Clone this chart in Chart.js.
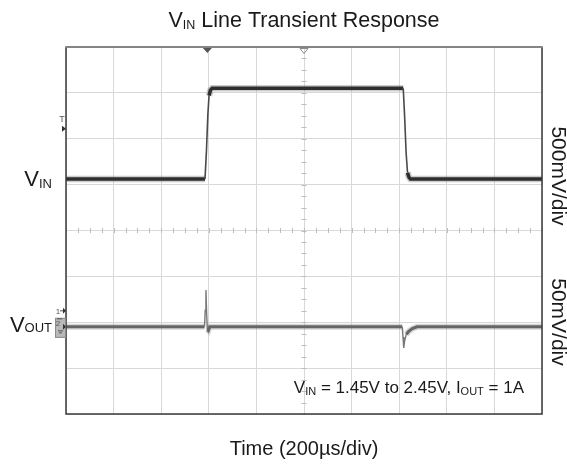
<!DOCTYPE html>
<html>
<head>
<meta charset="utf-8">
<script src="https://cdn.jsdelivr.net/npm/chart.js@4.4.0/dist/chart.umd.min.js"></script>
<style>
  html, body { margin: 0; padding: 0; background: #fff; }
  canvas { display: block; }
</style>
</head>
<body>
<canvas id="scope" width="567" height="466"></canvas>
<script>
// scope capture: 200us/div, 10 div across, 8 div tall
const vinTime  = [0, 584, 590, 596, 601, 607, 614, 1417, 1423, 1429, 1435, 1441, 1447, 2000];
const vinVolts = [1.45, 1.45, 1.75, 2.15, 2.36, 2.42, 2.44, 2.44, 2.12, 1.74, 1.52, 1.47, 1.45, 1.45];

// VOUT shown as deviation from its DC level (mV)
const voutTime = [0, 582, 585, 588, 591, 594, 598, 604, 1413, 1416, 1419, 1423, 1430, 1440, 1455, 1475, 2000];
const voutMv   = [0, 0, 18, 40, 14, -3, -4, 0, 0, -11, -23, -15, -8, -5, -2, 0, 0];

const timeRange = [0, 2000];     // us
const vinRange  = [-1.11, 2.89]; // V, 500mV/div
const voutRange = [-95, 305];    // mV, 50mV/div
const triggerTime  = 594;
const triggerLevel = 2.0;

const FONT = "'Liberation Sans', Arial, sans-serif";

const toPoints = (xs, ys) => xs.map((x, i) => ({ x: x, y: ys[i] }));
const vinPts  = toPoints(vinTime, vinVolts);
const voutPts = toPoints(voutTime, voutMv);

// fast edges are drawn thin, flat parts as a thick noisy band
const steep = (c, lim) => Math.abs(c.p1.parsed.y - c.p0.parsed.y) > lim;

function drawRuns(ctx, runs, x, y, align) {
  let total = 0;
  runs.forEach(r => {
    ctx.font = r.size + 'px ' + FONT;
    r.w = ctx.measureText(r.text).width;
    total += r.w;
  });
  let cx = align === 'center' ? x - total / 2 : (align === 'right' ? x - total : x);
  runs.forEach(r => {
    ctx.font = r.size + 'px ' + FONT;
    ctx.fillText(r.text, cx, y + (r.dy || 0));
    cx += r.w;
  });
}

const scopeDecor = {
  id: 'scopeDecor',
  beforeDatasetsDraw(chart) {
    const { ctx, scales } = chart;
    const xs = scales.x, ys = scales.y;
    const cy = ys.getPixelForValue(0);
    const cx = xs.getPixelForValue(1000);
    ctx.save();
    // minor ticks on the centre cross
    ctx.strokeStyle = '#bdbdbd';
    ctx.lineWidth = 1;
    ctx.beginPath();
    for (let t = 0; t <= 2000; t += 50) {
      const px = Math.round(xs.getPixelForValue(t)) + 0.5;
      ctx.moveTo(px, cy - 2.5);
      ctx.lineTo(px, cy + 2.5);
    }
    for (let d = -4; d <= 4; d += 0.25) {
      const py = Math.round(ys.getPixelForValue(d)) + 0.5;
      ctx.moveTo(cx - 2.5, py);
      ctx.lineTo(cx + 2.5, py);
    }
    ctx.stroke();
    ctx.restore();
  },
  afterDraw(chart) {
    const { ctx, chartArea: a, scales } = chart;
    const xs = scales.x;
    ctx.save();

    // frame
    ctx.lineWidth = 1.5;
    ctx.strokeStyle = '#3a3a3a';
    ctx.beginPath();
    ctx.moveTo(a.left, a.top);
    ctx.lineTo(a.left, a.bottom);
    ctx.lineTo(a.right, a.bottom);
    ctx.lineTo(a.right, a.top);
    ctx.stroke();
    ctx.strokeStyle = '#858585';
    ctx.lineWidth = 2;
    ctx.beginPath();
    ctx.moveTo(a.left - 0.75, a.top);
    ctx.lineTo(a.right + 0.75, a.top);
    ctx.stroke();

    // trigger position markers along the top
    const tx = xs.getPixelForValue(triggerTime);
    ctx.fillStyle = '#555';
    ctx.beginPath();
    ctx.moveTo(tx - 4.5, a.top + 1);
    ctx.lineTo(tx + 4.5, a.top + 1);
    ctx.lineTo(tx, a.top + 6);
    ctx.closePath();
    ctx.fill();
    const mx = xs.getPixelForValue(1000);
    ctx.strokeStyle = '#8a8a8a';
    ctx.lineWidth = 1;
    ctx.beginPath();
    ctx.moveTo(mx - 4, a.top + 1.5);
    ctx.lineTo(mx + 4, a.top + 1.5);
    ctx.lineTo(mx, a.top + 6.5);
    ctx.closePath();
    ctx.stroke();

    // trigger level marker on the left edge
    const ty = scales.yVin.getPixelForValue(triggerLevel);
    ctx.fillStyle = '#333';
    ctx.beginPath();
    ctx.moveTo(a.left - 4, ty - 3);
    ctx.lineTo(a.left, ty);
    ctx.lineTo(a.left - 4, ty + 3);
    ctx.closePath();
    ctx.fill();
    ctx.font = '9px ' + FONT;
    ctx.fillStyle = '#555';
    ctx.textAlign = 'center';
    ctx.fillText('T', a.left - 4, ty - 7);

    // channel ground markers
    const gy = scales.yVout.getPixelForValue(0);
    ctx.fillStyle = '#b8b8b8';
    ctx.strokeStyle = '#8c8c8c';
    ctx.lineWidth = 1;
    ctx.fillRect(a.left - 11, gy - 9, 11, 20);
    ctx.strokeRect(a.left - 11 + 0.5, gy - 9 + 0.5, 10, 19);
    ctx.fillStyle = '#555';
    ctx.font = '8px ' + FONT;
    ctx.fillText('2', a.left - 8, gy - 1);
    ctx.fillText('1', a.left - 8, gy - 13);
    ctx.strokeStyle = '#555';
    ctx.beginPath();
    ctx.moveTo(a.left - 6, gy - 16); ctx.lineTo(a.left - 1, gy - 16);
    ctx.moveTo(a.left - 9, gy - 8); ctx.lineTo(a.left - 4, gy - 8);
    ctx.moveTo(a.left - 8, gy + 4); ctx.lineTo(a.left - 3, gy + 4);
    ctx.moveTo(a.left - 7, gy + 6); ctx.lineTo(a.left - 4, gy + 6);
    ctx.stroke();
    ctx.fillStyle = '#333';
    ctx.beginPath();
    ctx.moveTo(a.left - 3, gy - 19); ctx.lineTo(a.left, gy - 16); ctx.lineTo(a.left - 3, gy - 13);
    ctx.closePath(); ctx.fill();
    ctx.beginPath();
    ctx.moveTo(a.left - 3, gy - 3); ctx.lineTo(a.left, gy); ctx.lineTo(a.left - 3, gy + 3);
    ctx.closePath(); ctx.fill();

    // texts
    ctx.fillStyle = '#1a1a1a';
    ctx.textAlign = 'left';
    ctx.textBaseline = 'alphabetic';
    const midX = (a.left + a.right) / 2;
    drawRuns(ctx, [
      { text: 'V', size: 21.5 }, { text: 'IN', size: 12.5, dy: 2 },
      { text: ' Line Transient Response', size: 21.5 }
    ], midX, 27, 'center');
    drawRuns(ctx, [{ text: 'Time (200µs/div)', size: 20 }], midX, 455, 'center');
    drawRuns(ctx, [{ text: 'V', size: 22 }, { text: 'IN', size: 13, dy: 2 }], 52, 186, 'right');
    drawRuns(ctx, [{ text: 'V', size: 22 }, { text: 'OUT', size: 13 }], 52, 332, 'right');
    drawRuns(ctx, [
      { text: 'V', size: 17 }, { text: 'IN', size: 11, dy: 2 },
      { text: ' = 1.45V to 2.45V, I', size: 17 }, { text: 'OUT', size: 11, dy: 2 },
      { text: ' = 1A', size: 17 }
    ], 524, 393, 'right');

    // per-channel scale, rotated on the right
    ctx.font = '21px ' + FONT;
    ctx.textAlign = 'center';
    ctx.textBaseline = 'middle';
    [['500mV/div', 176], ['50mV/div', 322]].forEach(([s, y]) => {
      ctx.save();
      ctx.translate(558, y);
      ctx.rotate(Math.PI / 2);
      ctx.fillText(s, 0, 0);
      ctx.restore();
    });
    ctx.restore();
  }
};

const lineBase = { pointRadius: 0, fill: false, tension: 0 };

new Chart(document.getElementById('scope').getContext('2d'), {
  type: 'line',
  data: {
    datasets: [
      Object.assign({}, lineBase, {
        label: 'VIN', data: vinPts, yAxisID: 'yVin', order: 0,
        borderColor: '#2e2e2e', borderWidth: 3.5,
        segment: {
          borderWidth: c => steep(c, 0.15) ? 1.6 : 3.5,
          borderColor: c => steep(c, 0.15) ? '#4a4a4a' : '#2e2e2e'
        }
      }),
      Object.assign({}, lineBase, {
        label: 'VIN band', data: vinPts, yAxisID: 'yVin', order: 2,
        borderColor: 'rgba(110,110,110,0.35)', borderWidth: 6.5,
        segment: { borderColor: c => steep(c, 0.15) ? 'rgba(0,0,0,0)' : undefined }
      }),
      Object.assign({}, lineBase, {
        label: 'VOUT', data: voutPts, yAxisID: 'yVout', order: 1,
        borderColor: '#666', borderWidth: 3,
        segment: {
          borderWidth: c => steep(c, 4) ? 1.4 : 3,
          borderColor: c => steep(c, 4) ? '#777' : '#666'
        }
      }),
      Object.assign({}, lineBase, {
        label: 'VOUT band', data: voutPts, yAxisID: 'yVout', order: 3,
        borderColor: 'rgba(140,140,140,0.35)', borderWidth: 6,
        segment: { borderColor: c => steep(c, 4) ? 'rgba(0,0,0,0)' : undefined }
      })
    ]
  },
  options: {
    responsive: false,
    animation: false,
    layout: { padding: { left: 66, top: 47, right: 25, bottom: 52 } },
    plugins: {
      legend: { display: false },
      tooltip: { enabled: false },
      title: { display: false }
    },
    scales: {
      x: {
        type: 'linear', min: timeRange[0], max: timeRange[1],
        ticks: { display: false, stepSize: 200 },
        grid: { color: '#d8d8d8', lineWidth: 1, drawTicks: false },
        border: { display: false }
      },
      y: {
        type: 'linear', min: -4, max: 4,
        ticks: { display: false, stepSize: 1 },
        grid: { color: '#d8d8d8', lineWidth: 1, drawTicks: false },
        border: { display: false }
      },
      yVin: { type: 'linear', display: false, min: vinRange[0], max: vinRange[1] },
      yVout: { type: 'linear', display: false, min: voutRange[0], max: voutRange[1] }
    }
  },
  plugins: [scopeDecor]
});
</script>
</body>
</html>
